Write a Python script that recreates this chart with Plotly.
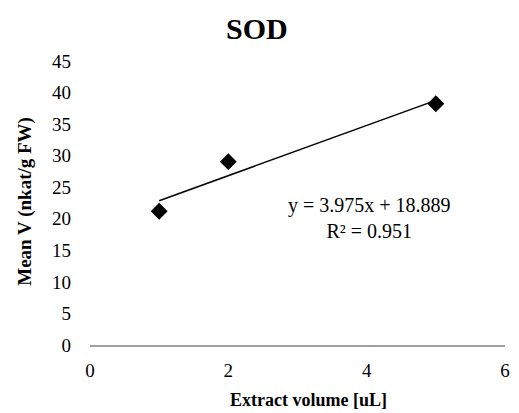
import numpy as np
import plotly.graph_objects as go

x_vals = [1, 2, 5]
y_vals = [21.2, 29.05, 38.22]
slope = 3.975
intercept = 18.889
r2 = 0.951
x_ticks = [0, 2, 4, 6]
y_ticks = [0, 5, 10, 15, 20, 25, 30, 35, 40, 45]

font_family = "Liberation Serif"

trend_x = np.array([min(x_vals), max(x_vals)])
trend_y = slope * trend_x + intercept

fig = go.Figure()
fig.add_trace(go.Scatter(x=trend_x, y=trend_y, mode="lines",
                         line=dict(color="black", width=1.5), showlegend=False,
                         hoverinfo="skip"))
fig.add_trace(go.Scatter(x=x_vals, y=y_vals, mode="markers",
                         marker=dict(symbol="diamond", size=13, color="black"),
                         showlegend=False))

fig.add_annotation(x=4.04, y=20.2, xref="x", yref="y",
                   text=f"y = {slope}x + {intercept}<br>R² = {r2}",
                   showarrow=False, font=dict(family=font_family, size=20, color="black"),
                   align="center")

# axis titles as annotations for exact placement
fig.add_annotation(x=(311 - 90) / 420, y=(345 - 400) / 284, xref="paper", yref="paper",
                   text="<b>Extract volume [uL]</b>", showarrow=False,
                   font=dict(family=font_family, size=18, color="black"),
                   xanchor="center", yanchor="middle")
fig.add_annotation(x=(24 - 90) / 420, y=(345 - 201) / 284, xref="paper", yref="paper",
                   text="<b>Mean V (nkat/g FW)</b>", showarrow=False, textangle=-90,
                   font=dict(family=font_family, size=19, color="black"),
                   xanchor="center", yanchor="middle")

fig.update_layout(
    width=519, height=413,
    margin=dict(l=90, r=9, t=61, b=68),
    paper_bgcolor="white", plot_bgcolor="white",
    font=dict(family=font_family, color="black"),
    title=dict(text="<b>SOD</b>", x=0.495, xanchor="center", y=0.93, yanchor="middle",
               font=dict(family=font_family, size=30, color="black")),
    xaxis=dict(range=[0, 6], tickvals=x_ticks, showgrid=False, zeroline=False,
               showline=True, linecolor="#a0a0a0", linewidth=2,
               ticks="", tickfont=dict(size=19, family=font_family),
               ticklabelstandoff=7),
    yaxis=dict(range=[0, 45], tickvals=y_ticks, showgrid=False, zeroline=False,
               showline=False, ticks="", tickfont=dict(size=19, family=font_family),
               ticklabelstandoff=18),
)

fig.write_html("out.html")
